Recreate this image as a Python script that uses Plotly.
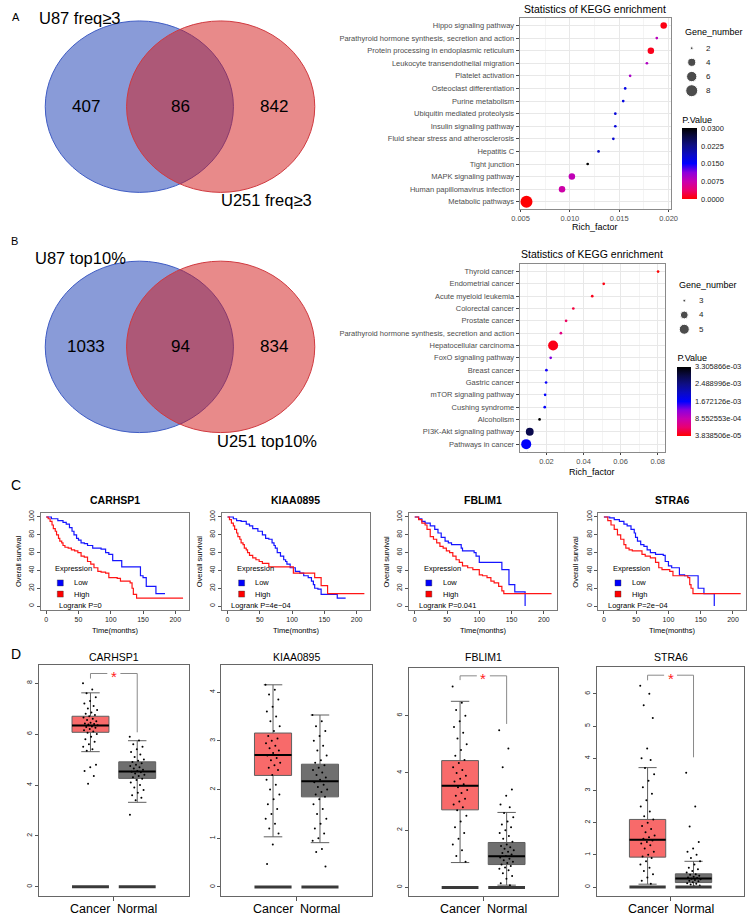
import math
import plotly.graph_objects as go

W, H = 754, 917
FONT = "Liberation Sans, Arial, Helvetica, sans-serif"

# ======================= DATA =======================
# Panel A / B : Venn diagrams
venn_a_counts = [407, 86, 842]
venn_a_names = ["U87 freq≥3", "U251 freq≥3"]
venn_b_counts = [1033, 94, 834]
venn_b_names = ["U87 top10%", "U251 top10%"]

# Panel A : KEGG enrichment
kegg_a_pathways = ["Hippo signaling pathway",
                   "Parathyroid hormone synthesis, secretion and action",
                   "Protein processing in endoplasmic reticulum",
                   "Leukocyte transendothelial migration",
                   "Platelet activation",
                   "Osteoclast differentiation",
                   "Purine metabolism",
                   "Ubiquitin mediated proteolysis",
                   "Insulin signaling pathway",
                   "Fluid shear stress and atherosclerosis",
                   "Hepatitis C",
                   "Tight junction",
                   "MAPK signaling pathway",
                   "Human papillomavirus infection",
                   "Metabolic pathways"]
kegg_a_rich = [0.0195, 0.0188, 0.0182, 0.0178, 0.0161, 0.0156, 0.0154, 0.0146,
               0.0146, 0.0144, 0.0129, 0.0118, 0.0102, 0.0092, 0.0056]
kegg_a_p = [0.0006, 0.0085, 0.0009, 0.0090, 0.0095, 0.0165, 0.0170, 0.0175,
            0.0175, 0.0180, 0.0190, 0.0300, 0.0080, 0.0070, 0.0001]
kegg_a_genes = [3, 2, 3, 2, 2, 2, 2, 2, 2, 2, 2, 2, 3, 3, 8]
kegg_a_size_breaks = [2, 4, 6, 8]
kegg_a_p_breaks = [0.0, 0.0075, 0.0150, 0.0225, 0.0300]
kegg_a_p_labels = ["0.0000", "0.0075", "0.0150", "0.0225", "0.0300"]

# Panel B : KEGG enrichment
kegg_b_pathways = ["Thyroid cancer", "Endometrial cancer", "Acute myeloid leukemia",
                   "Colorectal cancer", "Prostate cancer",
                   "Parathyroid hormone synthesis, secretion and action",
                   "Hepatocellular carcinoma", "FoxO signaling pathway", "Breast cancer",
                   "Gastric cancer", "mTOR signaling pathway", "Cushing syndrome",
                   "Alcoholism", "PI3K-Akt signaling pathway", "Pathways in cancer"]
kegg_b_rich = [0.0802, 0.0509, 0.0447, 0.0345, 0.0306, 0.0278, 0.0236, 0.0223,
               0.0200, 0.0198, 0.0193, 0.0191, 0.0163, 0.0110, 0.0091]
kegg_b_p = [3.838506e-05, 1.0e-04, 1.3e-04, 2.6e-04, 3.8e-04, 5.5e-04, 1.2e-04, 1.30e-03,
            1.62e-03, 1.65e-03, 1.68e-03, 1.70e-03, 3.305866e-03, 2.85e-03, 1.70e-03]
kegg_b_genes = [3, 3, 3, 3, 3, 3, 5, 3, 3, 3, 3, 3, 3, 4, 5]
kegg_b_size_breaks = [3, 4, 5]
kegg_b_p_breaks = [3.838506e-05, 8.552553e-04, 1.672126e-03, 2.488996e-03, 3.305866e-03]

# Panel C : Kaplan-Meier curves (time in months, survival %)
km_genes = ["CARHSP1", "KIAA0895", "FBLIM1", "STRA6"]
km_logrank = ["Logrank P=0", "Logrank P=4e\u221204", "Logrank P=0.041", "Logrank P=2e\u221204"]
km_low_t = [
    [0, 8, 18, 26, 31, 36, 40, 43, 47, 50, 54, 59, 64, 72, 85, 92, 97, 103, 117, 146, 150, 155, 170, 184],
    [0, 9, 14, 21, 29, 34, 39, 47, 54, 59, 64, 69, 72, 74, 77, 82, 87, 90, 92, 97, 105, 112, 118, 125, 130, 133, 135, 140, 145, 170, 183],
    [0, 6, 11, 16, 24, 31, 36, 41, 47, 52, 57, 72, 74, 92, 95, 100, 135, 146, 155, 171],
    [0, 9, 16, 24, 31, 36, 42, 47, 49, 52, 57, 62, 67, 72, 80, 92, 95, 100, 105, 117, 125, 146, 155, 171],
]
km_low_s = [
    [100, 98, 96, 94, 92, 88, 84, 80, 76, 74, 71, 70, 68, 65, 64, 60, 58, 51, 44, 34, 32, 22, 14, 14],
    [100, 98, 96, 95, 92, 90, 87, 84, 80, 76, 75, 71, 68, 65, 60, 56, 52, 50, 47, 43, 39, 37, 34, 32, 28, 24, 20, 19, 13, 9, 9],
    [100, 98, 95, 93, 90, 86, 82, 77, 73, 71, 69, 65, 62, 60, 56, 49, 41, 24, 16, 0],
    [100, 99, 97, 95, 92, 90, 86, 82, 77, 73, 69, 67, 63, 60, 58, 57, 50, 45, 43, 35, 34, 20, 14, 0],
]
km_high_t = [
    [0, 3, 6, 9, 11, 14, 16, 19, 21, 24, 26, 29, 34, 39, 44, 49, 54, 59, 64, 69, 74, 80, 85, 92, 97, 110, 115, 130, 133, 135, 140, 212],
    [0, 3, 6, 9, 11, 14, 16, 19, 21, 24, 26, 29, 31, 34, 39, 44, 49, 54, 64, 102, 135, 145, 155, 212],
    [0, 6, 11, 16, 19, 24, 29, 34, 39, 44, 49, 54, 59, 64, 69, 74, 82, 90, 100, 105, 112, 118, 123, 130, 135, 138, 212],
    [0, 6, 11, 16, 21, 26, 31, 34, 39, 44, 59, 64, 72, 80, 85, 90, 102, 107, 130, 133, 135, 138, 212],
]
km_high_s = [
    [100, 98, 95, 91, 87, 84, 80, 76, 73, 71, 68, 66, 65, 63, 62, 60, 56, 55, 50, 47, 43, 39, 38, 37, 32, 31, 28, 26, 20, 13, 9, 9],
    [100, 97, 93, 90, 86, 82, 78, 75, 71, 69, 65, 63, 60, 57, 54, 52, 50, 48, 44, 37, 32, 23, 14, 14],
    [100, 97, 93, 91, 86, 78, 75, 71, 67, 65, 62, 60, 56, 52, 49, 45, 43, 41, 35, 34, 32, 28, 26, 22, 17, 14, 14],
    [100, 96, 91, 86, 80, 75, 69, 65, 63, 62, 58, 56, 54, 49, 43, 41, 39, 34, 32, 24, 20, 14, 14],
]

# Panel D : expression box plots  [q1, median, q3, lower whisker, upper whisker]
box_genes = ["CARHSP1", "KIAA0895", "FBLIM1", "STRA6"]
box_groups = ["Cancer", "Normal"]
box_cancer_stats = [[6.07, 6.34, 6.70, 5.31, 7.62],
                    [2.29, 2.71, 3.16, 1.03, 4.15],
                    [2.71, 3.55, 4.43, 0.87, 6.50],
                    [0.93, 1.47, 2.10, 0.09, 3.71]]
box_normal_stats = [[4.26, 4.53, 4.91, 3.32, 5.74],
                    [1.85, 2.17, 2.52, 0.91, 3.53],
                    [0.80, 1.09, 1.57, 0.08, 2.62],
                    [0.14, 0.27, 0.41, 0.01, 0.80]]
box_cancer_pts = [
    [8.0, 7.75, 7.6, 7.45, 7.3, 7.2, 7.1, 7.0, 6.95, 6.85, 6.8, 6.75, 6.7, 6.65, 6.6, 6.55, 6.5, 6.45,
     6.42, 6.4, 6.38, 6.35, 6.3, 6.28, 6.25, 6.2, 6.15, 6.1, 6.05, 6.0, 5.9, 5.8, 5.7, 5.6, 5.5, 5.4,
     5.35, 4.8, 4.7, 4.55, 4.35, 4.05],
    [4.15, 4.05, 3.95, 3.85, 3.7, 3.6, 3.5, 3.4, 3.3, 3.2, 3.1, 3.05, 3.0, 2.95, 2.9, 2.85, 2.8, 2.75,
     2.7, 2.65, 2.6, 2.55, 2.5, 2.45, 2.4, 2.3, 2.2, 2.1, 2.0, 1.9, 1.8, 1.7, 1.6, 1.5, 1.4, 1.3, 1.2,
     1.1, 0.87, 0.47],
    [7.02, 6.45, 6.2, 6.0, 5.8, 5.6, 5.4, 5.2, 5.0, 4.8, 4.6, 4.45, 4.35, 4.2, 4.1, 4.0, 3.9, 3.8, 3.7,
     3.6, 3.5, 3.4, 3.3, 3.2, 3.1, 3.0, 2.9, 2.8, 2.7, 2.5, 2.3, 2.1, 1.9, 1.7, 1.5, 1.3, 1.1, 0.9],
    [6.25, 6.0, 5.65, 5.25, 4.3, 4.0, 3.95, 3.7, 3.5, 3.3, 3.1, 2.9, 2.7, 2.5, 2.35, 2.2, 2.1, 2.0, 1.9,
     1.8, 1.7, 1.6, 1.55, 1.5, 1.45, 1.4, 1.35, 1.3, 1.2, 1.1, 1.0, 0.95, 0.9, 0.8, 0.7, 0.6, 0.5, 0.4,
     0.3, 0.2, 0.1],
]
box_normal_pts = [
    [5.9, 5.75, 5.6, 5.5, 5.4, 5.3, 5.2, 5.1, 5.0, 4.95, 4.9, 4.85, 4.8, 4.75, 4.7, 4.65, 4.6, 4.55,
     4.52, 4.5, 4.45, 4.4, 4.35, 4.3, 4.25, 4.2, 4.1, 4.0, 3.9, 3.8, 3.7, 3.6, 3.5, 3.4, 2.83],
    [3.53, 3.4, 3.3, 3.2, 3.1, 3.0, 2.9, 2.8, 2.7, 2.6, 2.55, 2.5, 2.45, 2.4, 2.35, 2.3, 2.25, 2.2, 2.15,
     2.1, 2.05, 2.0, 1.95, 1.9, 1.85, 1.8, 1.7, 1.6, 1.5, 1.4, 1.3, 1.2, 1.1, 1.0, 0.95, 0.78, 0.72, 0.42],
    [5.49, 4.85, 4.2, 3.42, 3.2, 2.9, 2.8, 2.6, 2.45, 2.3, 2.2, 2.1, 2.0, 1.9, 1.8, 1.7, 1.6, 1.5, 1.45,
     1.4, 1.35, 1.3, 1.25, 1.2, 1.15, 1.1, 1.05, 1.0, 0.95, 0.9, 0.85, 0.8, 0.75, 0.7, 0.65, 0.6, 0.5,
     0.4, 0.3, 0.15, 0.08],
    [3.55, 2.5, 1.88, 1.4, 1.2, 1.1, 1.0, 0.9, 0.8, 0.7, 0.6, 0.55, 0.5, 0.45, 0.4, 0.38, 0.35, 0.32,
     0.3, 0.28, 0.26, 0.24, 0.22, 0.2, 0.18, 0.15, 0.12, 0.1, 0.08, 0.05, 0.02],
]
box_zero_level = 0
# significance bracket: [top, left leg end, right leg end]  (None = not significant)
box_brackets = [[8.38, 8.18, 6.07], None, [7.39, 7.24, 5.71], [6.58, 6.42, 4.03]]

# ======================= HELPERS =======================
layout = dict(width=W, height=H, margin=dict(l=0, r=0, t=0, b=0),
              paper_bgcolor="white", plot_bgcolor="white", showlegend=False,
              font=dict(family=FONT, color="black"))
shapes, annotations, traces = [], [], []


def px(x):
    return x / W


def py(y):
    return 1 - y / H


def ref(i):
    return ("x", "y") if i == 1 else (f"x{i}", f"y{i}")


def set_axes(i, xdom, ydom, xa, ya):
    xr, yr = ref(i)
    layout["xaxis" if i == 1 else f"xaxis{i}"] = dict(domain=[px(xdom[0]), px(xdom[1])], anchor=yr, **xa)
    layout["yaxis" if i == 1 else f"yaxis{i}"] = dict(domain=[py(ydom[1]), py(ydom[0])], anchor=xr, **ya)


def text(t, x, y, size, xanchor="center", yanchor="middle", color="black", angle=0,
         xref="paper", yref="paper", **kw):
    if xref == "paper":
        x = px(x)
    if yref == "paper":
        y = py(y)
    annotations.append(dict(text=t, x=x, y=y, xref=xref, yref=yref, showarrow=False,
                            xanchor=xanchor, yanchor=yanchor, textangle=angle,
                            font=dict(size=size, color=color, family=FONT), **kw))


HIDDEN = dict(visible=False, showgrid=False, zeroline=False)

# ======================= VENN =======================
BLUE_FILL = "rgba(19,55,177,0.5)"
RED_FILL = "rgba(209,21,21,0.5)"


def venn(counts, names, top, bottom, left_lbl, right_lbl):
    bx0, bx1, rx0, rx1 = 38, 230, 121, 313
    shapes.append(dict(type="circle", xref="paper", yref="paper", x0=px(bx0), x1=px(bx1),
                       y0=py(bottom), y1=py(top), fillcolor=BLUE_FILL,
                       line=dict(color="#3f5cc4", width=1)))
    shapes.append(dict(type="circle", xref="paper", yref="paper", x0=px(rx0), x1=px(rx1),
                       y0=py(bottom), y1=py(top), fillcolor=RED_FILL,
                       line=dict(color="#d03a40", width=1)))
    cy = (top + bottom) / 2
    for c, xx in zip(counts, [(bx0 + rx0) / 2, (rx0 + bx1) / 2, (bx1 + rx1) / 2]):
        text(str(c), xx, cy, 17)
    text(names[0], left_lbl[0], left_lbl[1], 16.5, xanchor="left")
    text(names[1], right_lbl[0], right_lbl[1], 16.5, xanchor="left")


venn(venn_a_counts, venn_a_names, 18, 190, (30, 15), (215, 198))
venn(venn_b_counts, venn_b_names, 259, 431, (26, 256), (211, 439.5))
text("A", 2, 14, 11, xanchor="left")
text("B", 1, 239, 11, xanchor="left")
text("C", 1, 484, 14, xanchor="left")
text("D", 1, 653, 14, xanchor="left")

# ======================= KEGG =======================
CSCALE = [[0.0, "#ff0000"], [0.125, "#ea0070"], [0.25, "#c800b0"], [0.375, "#8c00dc"],
          [0.5, "#0000ff"], [0.625, "#0a0ac4"], [0.75, "#0e0e86"], [0.875, "#0a0a46"],
          [1.0, "#000000"]]


def gsize(g, gmin, gmax, dmin, dmax):
    return dmin + (dmax - dmin) * math.sqrt((g - gmin) / (gmax - gmin))


def kegg(i, li, cax, paths, rich, pv, genes, breaks, dmax, xdom, ydom, dtick, fmt,
         title_y, xlab_y, leg_title, leg_dom, leg_dot, leg_lbl, cb):
    gmin, gmax = min(genes), max(genes)
    span = max(rich) - min(rich)
    xr, yr = ref(i)
    traces.append(go.Scatter(
        x=rich, y=paths, mode="markers", xaxis=xr, yaxis=yr, hoverinfo="skip",
        marker=dict(size=[gsize(g, gmin, gmax, 2.7, dmax) for g in genes], color=pv,
                    coloraxis=cax, line=dict(width=0), opacity=1)))
    n = len(paths)
    set_axes(i, xdom, ydom,
             dict(range=[min(rich) - 0.05 * span, max(rich) + 0.05 * span], dtick=dtick,
                  tick0=0, tickformat=fmt, showgrid=True, gridcolor="#e8e8e8", gridwidth=1,
                  minor=dict(dtick=dtick / 2, tick0=0, showgrid=True, gridcolor="#f4f4f4",
                             gridwidth=0.6),
                  showline=True, mirror=True, linecolor="#8a8a8a", linewidth=1,
                  ticks="outside", ticklen=2, tickcolor="#444", tickwidth=0.8,
                  tickfont=dict(size=7.5, color="#4d4d4d"), zeroline=False),
             dict(type="category", categoryorder="array", categoryarray=paths,
                  range=[n - 1 + 0.6, -0.6], showgrid=True, gridcolor="#e8e8e8", gridwidth=1,
                  showline=True, mirror=True, linecolor="#8a8a8a", linewidth=1,
                  ticks="outside", ticklen=3, tickcolor="#444", tickwidth=0.8,
                  tickfont=dict(size=7.5, color="#4d4d4d"), zeroline=False))
    cx = (xdom[0] + xdom[1]) / 2
    text("Statistics of KEGG enrichment", cx, title_y, 10.5)
    text("Rich_factor", cx, xlab_y, 9)
    # size legend
    lxr, lyr = ref(li)
    nb = len(breaks)
    traces.append(go.Scatter(
        x=[leg_dot] * nb, y=list(range(nb)), mode="markers", xaxis=lxr, yaxis=lyr,
        hoverinfo="skip",
        marker=dict(size=[gsize(b, gmin, gmax, 2.7, dmax) for b in breaks], color="black")))
    set_axes(li, leg_dom[0], leg_dom[1], dict(range=[0, 1], **HIDDEN),
             dict(range=[nb - 0.5, -0.5], **HIDDEN))
    for k, b in enumerate(breaks):
        text(str(b), leg_lbl, k, 8, xanchor="left", xref=lxr, yref=lyr, color="#222")
    text("Gene_number", leg_title[0], leg_title[1], 9, xanchor="left")
    layout[cax] = dict(cmin=cb["cmin"], cmax=cb["cmax"], colorscale=CSCALE,
                       colorbar=dict(x=px(cb["x"]), xanchor="left", y=py(cb["bottom"]),
                                     yanchor="bottom", len=cb["len"], lenmode="pixels",
                                     thickness=cb["th"], thicknessmode="pixels", xpad=0, ypad=0,
                                     outlinewidth=0, tickvals=cb["tv"], ticktext=cb["tt"],
                                     ticks="outside", ticklen=3, tickcolor="rgba(0,0,0,0)",
                                     tickfont=dict(size=7.5, color="#222", family=FONT),
                                     title=dict(text="P.Value", side="top",
                                                font=dict(size=9, family=FONT))))


kegg(1, 2, "coloraxis", kegg_a_pathways, kegg_a_rich, kegg_a_p, kegg_a_genes,
     kegg_a_size_breaks, 12, (522, 676), (15, 207), 0.005, ".3f", 6, 225,
     (689, 29.5), ((688, 728), (38.2, 95.1)), 0.24, 0.55,
     dict(cmin=0.0, cmax=0.03, x=688, bottom=197, len=86, th=15,
          tv=kegg_a_p_breaks, tt=kegg_a_p_labels))
kegg(3, 4, "coloraxis2", kegg_b_pathways, kegg_b_rich, kegg_b_p, kegg_b_genes,
     kegg_b_size_breaks, 10, (522, 670), (262, 450), 0.02, ".2f", 252, 471,
     (683, 283), ((683, 723), (291.5, 334.5)), 0.175, 0.51,
     dict(cmin=min(kegg_b_p), cmax=max(kegg_b_p), x=683, bottom=434, len=84, th=14,
          tv=kegg_b_p_breaks, tt=[f"{v:.6e}" for v in kegg_b_p_breaks]))

# ======================= KAPLAN-MEIER =======================
KM_ZERO = [39, 224, 415, 608]
KM_S = 0.6585
KM_Y = (512.1, 608.6)
for k in range(4):
    i = 5 + k
    xr, yr = ref(i)
    z = KM_ZERO[k]
    xdom = (z - 8.5 * KM_S, z + 220.5 * KM_S)
    traces.append(go.Scatter(x=km_low_t[k], y=km_low_s[k], mode="lines", xaxis=xr, yaxis=yr,
                             line=dict(shape="hv", color="#1515ff", width=1.2), hoverinfo="skip"))
    traces.append(go.Scatter(x=km_high_t[k], y=km_high_s[k], mode="lines", xaxis=xr, yaxis=yr,
                             line=dict(shape="hv", color="#ff1515", width=1.2), hoverinfo="skip"))
    # legend keys
    traces.append(go.Scatter(x=[21.8, 21.8], y=[26, 13.4], mode="markers", xaxis=xr, yaxis=yr,
                             hoverinfo="skip",
                             marker=dict(symbol="square", size=6, color=["#0000ff", "#ff0000"],
                                         line=dict(color="#333", width=0.4))))
    text("Expression", 11, 42.2, 7.5, xanchor="left", xref=xr, yref=yr)
    text("Low", 40, 26, 7.5, xanchor="left", xref=xr, yref=yr)
    text("High", 40, 13.4, 7.5, xanchor="left", xref=xr, yref=yr)
    text(km_logrank[k], [16, 2.5, 3.5, 3.5][k], 0.8, 7.5, xanchor="left", xref=xr, yref=yr)
    ax = dict(showline=True, mirror=True, linecolor="#7a7a7a", linewidth=1, showgrid=False,
              zeroline=False, ticks="outside", ticklen=3, tickcolor="#555", tickwidth=0.8,
              tickfont=dict(size=7, color="#222"))
    set_axes(i, xdom, KM_Y,
             dict(range=[-8.5, 220.5], tickvals=[0, 50, 100, 150, 200], **ax),
             dict(range=[-4, 104], tickvals=[0, 20, 40, 60, 80, 100], tickangle=-90, **ax))
    cx = (xdom[0] + xdom[1]) / 2
    text("<b>" + km_genes[k] + "</b>", cx, 499, 10.5)
    text("Time(months)", cx, 630, 7.5)
    text("Overall survival", z - 29, 560, 7.5, angle=-90)

# ======================= BOX PLOTS =======================
BOX_X = [(31.7, 184.3), (217.7, 371), (409, 561), (601, 751)]
BOX_Y = [(664, 895.7), (664, 895.7), (666.7, 895.7), (666, 895.7)]
BOX_YR = [[-0.35, 8.72], [-0.18, 4.56], [-0.29, 7.68], [-0.27, 6.84]]
BOX_TV = [[0, 2, 4, 6, 8], [0, 1, 2, 3, 4], [0, 2, 4, 6], [0, 1, 2, 3, 4, 5, 6]]
BW = 0.79
GOLD = 0.6180339887
for k in range(4):
    i = 9 + k
    xr, yr = ref(i)
    for g, (stats, pts, fill) in enumerate([(box_cancer_stats[k], box_cancer_pts[k], "#f86a6a"),
                                             (box_normal_stats[k], box_normal_pts[k], "#6f6f6f")]):
        pos = g + 1
        q1, med, q3, lo, hi = stats
        traces.append(go.Box(x=[pos], q1=[q1], median=[med], q3=[q3], lowerfence=[lo],
                             upperfence=[hi], width=BW, fillcolor=fill, whiskerwidth=0.5,
                             line=dict(color="#5f5f5f", width=1), boxpoints=False,
                             xaxis=xr, yaxis=yr, hoverinfo="skip"))
        jx = [pos + ((n * GOLD) % 1 - 0.5) * 0.32 for n in range(len(pts))]
        traces.append(go.Scatter(x=jx, y=pts, mode="markers", xaxis=xr, yaxis=yr,
                                 hoverinfo="skip",
                                 marker=dict(size=2, color="black", line=dict(width=0))))
        traces.append(go.Scatter(x=[pos - BW / 2, pos + BW / 2], y=[med, med], mode="lines",
                                 xaxis=xr, yaxis=yr, hoverinfo="skip",
                                 line=dict(color="black", width=2)))
        traces.append(go.Scatter(x=[pos - BW / 2, pos + BW / 2], y=[box_zero_level] * 2,
                                 mode="lines", xaxis=xr, yaxis=yr, hoverinfo="skip",
                                 line=dict(color="#3a3a3a", width=3)))
        text(box_groups[g], pos, 908.5, 12.5, xref=xr, yref="paper")
    br = box_brackets[k]
    if br is not None:
        top, lleg, rleg = br
        traces.append(go.Scatter(x=[1, 1, 1.36], y=[lleg, top, top], mode="lines",
                                 xaxis=xr, yaxis=yr, hoverinfo="skip",
                                 line=dict(color="#8a8a8a", width=1)))
        traces.append(go.Scatter(x=[1.64, 2, 2], y=[top, top, rleg], mode="lines",
                                 xaxis=xr, yaxis=yr, hoverinfo="skip",
                                 line=dict(color="#8a8a8a", width=1)))
        text("*", 1.5, top, 15, color="#ff2020", xref=xr, yref=yr, yshift=-3)
    set_axes(i, BOX_X[k], BOX_Y[k],
             dict(range=[-0.1, 3.1], tickvals=[1.5], showticklabels=False,
                  ticks="outside", ticklen=4, tickcolor="#555", tickwidth=0.8,
                  showline=True, mirror=True,
                  linecolor="#666", linewidth=1, showgrid=False, zeroline=False),
             dict(range=BOX_YR[k], tickvals=BOX_TV[k], tickangle=-90, ticks="outside",
                  ticklen=3, tickcolor="#555", tickwidth=0.8,
                  tickfont=dict(size=7, color="#222"), showline=True, mirror=True,
                  linecolor="#666", linewidth=1, showgrid=False, zeroline=False))
    text(box_genes[k], (BOX_X[k][0] + BOX_X[k][1]) / 2, 656, 10.5)

layout["shapes"] = shapes
layout["annotations"] = annotations
fig = go.Figure(data=traces, layout=layout)
fig.write_html("out.html", config={"displayModeBar": False},
               post_script="document.body.style.margin='0';document.body.style.padding='0';"
                           "document.body.style.overflow='hidden';")
